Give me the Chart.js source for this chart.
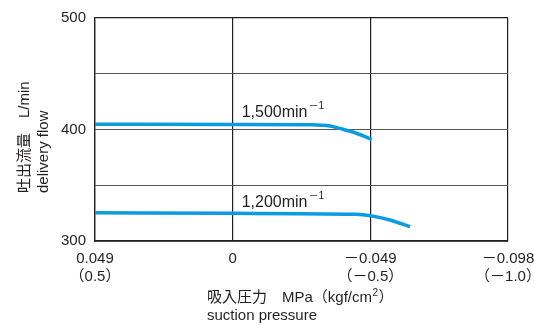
<!DOCTYPE html>
<html>
<head>
<meta charset="utf-8">
<script src="https://cdn.jsdelivr.net/npm/chart.js@4/dist/chart.umd.min.js"></script>
<style>
  body { margin: 0; background: #fff; }
</style>
</head>
<body>
<canvas id="grafico" width="534" height="325"></canvas>
<script>
// datos (MPa, L/min)
const x1500 = [0.049, 0, -0.028, -0.0347, -0.038, -0.0443, -0.0495]
const y1500 = [404.8, 404.5, 404.2, 403.1, 401.0, 396.4, 391.0]
const x1200 = [0.049, 0, -0.044, -0.049, -0.056, -0.0631]
const y1200 = [325.3, 324.8, 323.9, 322.6, 318.8, 312.8]
const xTicks = [0.049, 0, -0.049, -0.098]
const mpaLabels = ['0.049', '0', '－0.049', '－0.098']
const kgfLabels = ['（0.5）', '', '（－0.5）', '（－1.0）']
const curvas = ['1,500min', '1,200min']

const FUENTE = '"Liberation Sans", "Noto Sans CJK JP", sans-serif'
const TINTA = '#231f20'
const AZUL = '#0a9be0'

function puntos (xs, ys) {
  return xs.map((x, i) => ({ x: x, y: ys[i] }))
}

// textos de los ejes y de las curvas
const textos = {
  id: 'textos',
  afterDraw (chart) {
    const ctx = chart.ctx
    const area = chart.chartArea
    const sx = chart.scales.x
    const sy = chart.scales.y
    ctx.save()
    ctx.fillStyle = TINTA
    ctx.textBaseline = 'middle'
    // titulo eje y
    ctx.save()
    ctx.translate(25, 193)
    ctx.rotate(-Math.PI / 2)
    ctx.textAlign = 'left'
    ctx.font = '15px ' + FUENTE
    ctx.fillText('吐出流量　L/min', 0, 0)
    ctx.fillText('delivery flow', 0, 19)
    ctx.restore()
    // titulo eje x
    const tx = 207
    ctx.textAlign = 'left'
    ctx.font = '15px ' + FUENTE
    let t1 = '吸入圧力　MPa（kgf/cm'
    ctx.fillText(t1, tx, area.bottom + 57)
    let w = ctx.measureText(t1).width
    ctx.font = '10px ' + FUENTE
    ctx.fillText('2', tx + w + 0.5, area.bottom + 52)
    let w2 = ctx.measureText('2').width
    ctx.font = '15px ' + FUENTE
    ctx.fillText('）', tx + w + w2 + 1, area.bottom + 57)
    ctx.fillText('suction pressure', tx, area.bottom + 75)
    // etiquetas de las curvas
    const x0 = sx.getPixelForValue(0) + 9
    const pos = [sy.getPixelForValue(411.2), sy.getPixelForValue(330.9)]
    ctx.textBaseline = 'alphabetic'
    curvas.forEach((txt, i) => {
      ctx.font = '16px ' + FUENTE
      ctx.fillText(txt, x0, pos[i])
      const wt = ctx.measureText(txt).width
      ctx.font = '10px ' + FUENTE
      ctx.fillText('－1', x0 + wt + 1, pos[i] - 8)
    })
    ctx.restore()
  }
}

new Chart(document.getElementById('grafico'), {
  type: 'scatter',
  data: {
    datasets: [
      { data: puntos(x1500, y1500) },
      { data: puntos(x1200, y1200) }
    ]
  },
  options: {
    responsive: false,
    animation: false,
    events: [],
    layout: { padding: { top: 17, right: 26, left: 0, bottom: 0 } },
    elements: {
      point: { radius: 0 },
      line: { borderColor: AZUL, borderWidth: 3.5, cubicInterpolationMode: 'monotone', borderCapStyle: 'butt' }
    },
    datasets: { scatter: { showLine: true } },
    plugins: { legend: { display: false }, tooltip: { enabled: false } },
    scales: {
      x: {
        type: 'linear',
        reverse: true,
        min: -0.098,
        max: 0.049,
        afterBuildTicks: scale => { scale.ticks = xTicks.map(v => ({ value: v })) },
        afterFit: scale => {
          scale.height = 84
          scale.paddingLeft = 0
          scale.paddingRight = 0
        },
        border: { color: TINTA, width: 1.3 },
        grid: { color: TINTA, lineWidth: 1.2, drawTicks: false },
        ticks: {
          padding: 9,
          maxRotation: 0,
          autoSkip: false,
          color: TINTA,
          font: { family: FUENTE, size: 15, lineHeight: 1.2 },
          callback: (v) => {
            const i = xTicks.indexOf(v)
            if (i < 0) return ''
            return kgfLabels[i] ? [mpaLabels[i], kgfLabels[i]] : mpaLabels[i]
          }
        }
      },
      y: {
        min: 300,
        max: 500,
        afterFit: scale => { scale.width = 95 },
        border: { color: TINTA, width: 1.3 },
        grid: {
          color: c => (c.tick && c.tick.value === 500) ? TINTA : '#555',
          lineWidth: c => (c.tick && c.tick.value === 500) ? 1.3 : 1,
          drawTicks: false
        },
        ticks: {
          stepSize: 50,
          padding: 9,
          color: TINTA,
          font: { family: FUENTE, size: 15 },
          callback: v => (v % 100 === 0 ? v : '')
        }
      }
    }
  },
  plugins: [textos]
})
</script>
</body>
</html>
